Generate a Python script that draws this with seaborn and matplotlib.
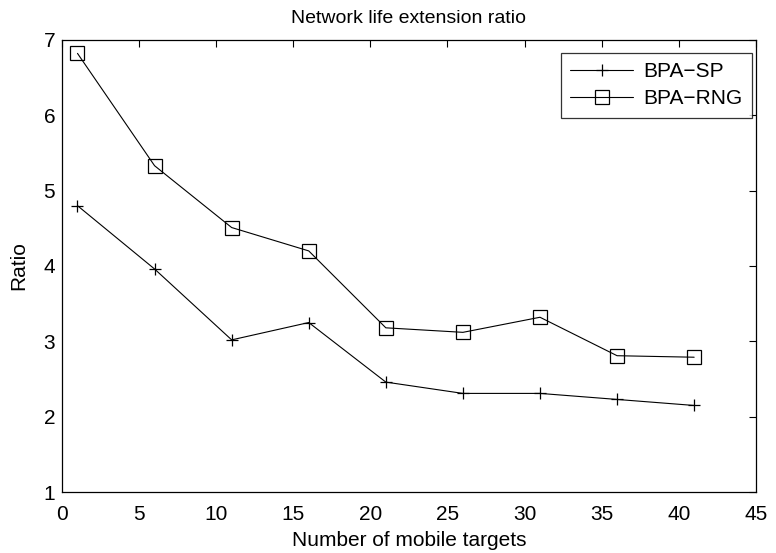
import matplotlib
matplotlib.use("Agg")
import matplotlib.pyplot as plt
import seaborn as sns
import pandas as pd

targets = [1, 6, 11, 16, 21, 26, 31, 36, 41]
bpa_sp = [4.80, 3.96, 3.02, 3.25, 2.46, 2.31, 2.31, 2.23, 2.15]
bpa_rng = [6.82, 5.33, 4.51, 4.20, 3.18, 3.12, 3.32, 2.81, 2.79]
series_names = ["BPA\u2212SP", "BPA\u2212RNG"]
xticks = list(range(0, 46, 5))
yticks = list(range(1, 8))

sns.set_theme(style="white")
plt.rcParams['font.family'] = ['Liberation Sans', 'DejaVu Sans']
plt.rcParams['axes.unicode_minus'] = True
plt.rcParams['text.color'] = 'black'
plt.rcParams['axes.labelcolor'] = 'black'
plt.rcParams['xtick.color'] = 'black'
plt.rcParams['ytick.color'] = 'black'

df_sp = pd.DataFrame({"x": targets, "y": bpa_sp})
df_rng = pd.DataFrame({"x": targets, "y": bpa_rng})

fig = plt.figure(figsize=(7.76, 5.53), dpi=100)
ax = fig.add_axes([0.080, 0.110, 0.894, 0.818])

sns.lineplot(data=df_sp, x="x", y="y", color="black", marker="+",
             markersize=9, markeredgewidth=0.9, markeredgecolor="black",
             linewidth=0.8, label=series_names[0], ax=ax)
sns.lineplot(data=df_rng, x="x", y="y", color="black", marker="s",
             markersize=9.8, markerfacecolor="none", markeredgecolor="black",
             markeredgewidth=0.9, linewidth=0.8,
             label=series_names[1], ax=ax)

ax.set_xlim(0, 45)
ax.set_ylim(1, 7)
ax.set_xticks(xticks)
ax.set_yticks(yticks)
ax.tick_params(direction="in", length=5, width=0.8, top=True, right=True,
               labelsize=15, colors="black")
ax.tick_params(axis="x", pad=9)
ax.tick_params(axis="y", pad=5)
for sp in ax.spines.values():
    sp.set_color("black")
    sp.set_linewidth(0.9)
ax.set_xlabel("Number of mobile targets", fontsize=15, labelpad=5, color="black")
ax.set_ylabel("Ratio", fontsize=15, labelpad=11, color="black")
ax.set_title("Network life extension ratio", fontsize=14, pad=12, color="black")

leg = ax.legend(loc="upper right", bbox_to_anchor=(0.9942, 0.9719),
                fontsize=15, frameon=True, fancybox=False,
                edgecolor="black", handlelength=3.0, handletextpad=0.5,
                labelspacing=0.4, borderpad=0.45, borderaxespad=0.0,
                labelcolor="black")
leg.get_frame().set_linewidth(0.9)

fig.savefig("out.png", dpi=100, facecolor="white")
